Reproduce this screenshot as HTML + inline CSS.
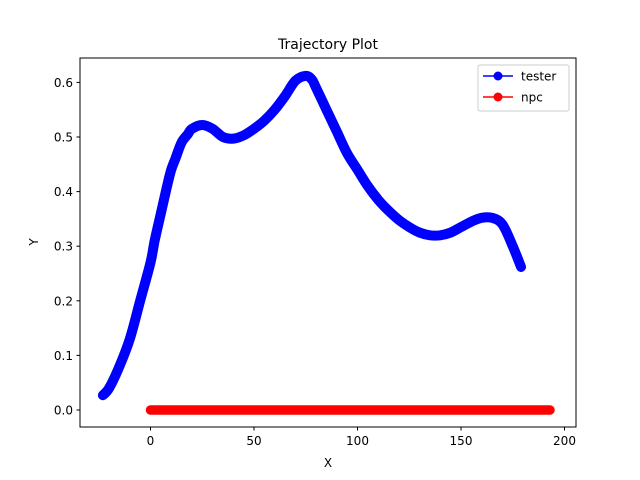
<!DOCTYPE html>
<html><head><meta charset="utf-8"><style>body{margin:0;background:#fff}svg{display:block;font-family:"DejaVu Sans","Liberation Sans",sans-serif}</style></head>
<body>
<svg id="chart" width="640" height="480" viewBox="0 0 640 480">
<rect width="640" height="480" fill="#fff"/>
<g id="plot"></g>
<rect x="80" y="58" width="496" height="369" fill="none" stroke="#000" stroke-width="1"/>
<g id="xticks"></g>
<g id="yticks"></g>
<text x="328" y="49" font-size="14" text-anchor="middle">Trajectory Plot</text>
<text x="328" y="467" font-size="12" text-anchor="middle">X</text>
<text x="38" y="242" font-size="12" text-anchor="middle" transform="rotate(-90 38 242)">Y</text>
<g>
<rect x="478" y="65" width="91" height="46" rx="2" fill="#fff" fill-opacity="0.8" stroke="#ccc"/>
<g><line x1="483" y1="76" x2="513" y2="76" stroke="blue" stroke-width="1.5"/><circle cx="498" cy="76" r="4.5" fill="blue"/><text x="521" y="80.5" font-size="12">tester</text></g>
<g><line x1="483" y1="97" x2="513" y2="97" stroke="red" stroke-width="1.5"/><circle cx="498" cy="97" r="4.5" fill="red"/><text x="521" y="101.5" font-size="12">npc</text></g>
</g>
</svg>
<script>
const testerX=[-23,-20,-15,-10,-5,0,2,5,8,10,12,15,18,20,25,30,35,40,45,50,55,60,65,70,75,78,80,85,90,95,100,105,110,115,120,125,130,135,140,145,150,155,160,165,170,175,179];
const testerY=[0.027,0.04,0.08,0.13,0.2,0.27,0.31,0.36,0.41,0.44,0.46,0.49,0.505,0.515,0.522,0.515,0.5,0.497,0.503,0.515,0.53,0.55,0.575,0.603,0.612,0.605,0.59,0.55,0.51,0.47,0.44,0.41,0.385,0.365,0.348,0.335,0.325,0.32,0.32,0.325,0.335,0.345,0.352,0.352,0.34,0.3,0.262];
const npcStart=0, npcEnd=193, npcY=0;
const xTicks=[0,50,100,150,200];
const yTicks=[0.0,0.1,0.2,0.3,0.4,0.5,0.6];
const NS="http://www.w3.org/2000/svg";
const sx=v=>150.5+v*2.07;
const sy=v=>410-v*546;
function mk(t,a,p){const e=document.createElementNS(NS,t);for(const k in a)e.setAttribute(k,a[k]);p.appendChild(e);return e;}
const plot=document.getElementById('plot');
const npcLine=mk('line',{x1:sx(npcStart),y1:sy(npcY),x2:sx(npcEnd),y2:sy(npcY),stroke:'red','stroke-width':9.5,'stroke-linecap':'round'},plot);


const P=testerX.map((x,i)=>[sx(x),sy(testerY[i])]);
let d='M'+P[0][0]+','+P[0][1];
for(let i=0;i<P.length-1;i++){const p0=P[Math.max(0,i-1)],p1=P[i],p2=P[i+1],p3=P[Math.min(P.length-1,i+2)];
const c1=[p1[0]+(p2[0]-p0[0])/6,p1[1]+(p2[1]-p0[1])/6],c2=[p2[0]-(p3[0]-p1[0])/6,p2[1]-(p3[1]-p1[1])/6];
d+=' C'+c1+' '+c2+' '+p2;}
const tl=mk('path',{d:d,fill:'none',stroke:'blue','stroke-width':10,'stroke-linecap':'round','stroke-linejoin':'round'},plot);


const xg=document.getElementById('xticks');
xTicks.forEach(t=>{const X=sx(t);mk('line',{x1:X,y1:427,x2:X,y2:430.5,stroke:'#000'},xg);
const tx=mk('text',{x:X,y:445,'font-size':12,'text-anchor':'middle'},xg);tx.textContent=t;

});
const yg=document.getElementById('yticks');
yTicks.forEach(t=>{const Y=sy(t);mk('line',{x1:76.5,y1:Y,x2:80,y2:Y,stroke:'#000'},yg);
const tx=mk('text',{x:73,y:Y+4.5,'font-size':12,'text-anchor':'end'},yg);tx.textContent=t.toFixed(1);

});
</script>
</body></html>
